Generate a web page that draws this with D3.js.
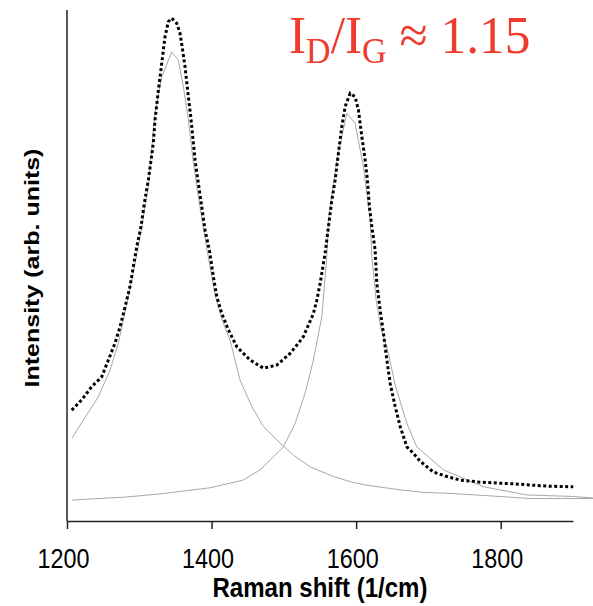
<!DOCTYPE html>
<html>
<head>
<meta charset="utf-8">
<script src="https://cdn.jsdelivr.net/npm/d3@7"></script>
<style>
  html, body { margin: 0; padding: 0; background: #fff; }
  svg { display: block; }
</style>
</head>
<body>
<svg id="chart" width="593" height="606"></svg>
<script>
// ---- data ----
const xTicks = [1200, 1400, 1600, 1800];
const xDomain = [1200, 1900];
const yDomain = [0, 100];

// Measured spectrum (Raman shift in 1/cm, intensity arb. units)
const measShift = [1206.5,1220.3,1234.2,1248.0,1257.2,1266.4,1273.4,1280.3,1287.2,1291.8,1296.5,1302.4,1307.0,1312.5,1319.4,1321.8,1326.4,1331.1,1335.6,1340.2,1344.9,1351.8,1356.4,1359.6,1363.3,1367.9,1371.2,1374.0,1377.2,1381.7,1386.4,1391.0,1397.0,1402.5,1407.2,1414.1,1423.3,1434.9,1453.3,1471.7,1490.2,1508.7,1520.1,1527.1,1540.9,1545.6,1550.2,1554.7,1557.1,1561.7,1566.4,1570.9,1575.5,1580.2,1584.8,1591.7,1598.6,1603.2,1607.9,1612.5,1615.6,1618.4,1621.7,1626.3,1628.6,1633.2,1637.8,1642.5,1647.1,1654.0,1660.9,1670.2,1678.9,1688.6,1706.6,1723.2,1744.0,1771.6,1799.3,1827.0,1845.0,1868.5,1900.3];
const measInt = [21.7,23.7,26.3,28.2,31.5,34.8,38.0,41.9,45.9,49.8,53.7,57.6,62.2,66.7,73.9,78.5,84.3,89.6,94.8,97.7,98.4,97.4,95.4,92.5,88.9,83.0,79.1,75.2,70.6,66.1,61.5,56.9,53.0,47.8,43.9,40.6,37.4,34.1,31.5,29.9,30.5,32.8,34.8,36.1,40.6,43.2,46.5,50.4,52.4,57.6,62.8,66.7,72.0,77.2,81.1,83.7,83.0,80.4,75.2,70.6,66.7,61.5,57.6,53.0,46.5,41.3,36.7,31.5,26.9,22.4,18.5,14.5,13.3,11.7,9.6,8.8,8.0,7.6,7.4,7.2,7.0,6.8,6.7];

// D-band fit
const dFitShift = [1206.9,1215.6,1243.3,1259.5,1271.0,1280.3,1291.8,1302.4,1312.5,1321.8,1331.1,1344.9,1354.0,1361.0,1367.9,1374.4,1384.1,1393.8,1404.8,1414.5,1425.6,1439.4,1455.6,1471.7,1497.2,1513.2,1536.3,1568.6,1591.7,1614.8,1660.9,1693.1,1730.1,1776.2,1840.8,1928.0];
const dFitInt = [16.2,18.2,24.3,29.5,34.8,40.9,48.7,56.6,65.6,79.8,86.9,91.8,90.2,85.0,78.5,70.6,61.3,53.0,44.2,39.3,35.4,27.6,22.4,18.5,14.9,12.9,10.6,8.7,7.7,7.0,6.1,5.6,5.4,5.0,4.4,4.4];

// G-band fit
const gFitShift = [1206.9,1283.0,1328.7,1397.9,1443.6,1467.1,1499.4,1515.6,1529.4,1540.9,1552.5,1559.4,1561.7,1573.3,1587.1,1598.6,1610.1,1619.4,1621.7,1627.7,1634.6,1642.5,1654.0,1670.2,1684.0,1720.8,1776.2,1836.2,1900.8,1928.0];
const gFitInt = [4.1,4.7,5.3,6.5,8.0,10.0,14.5,19.1,25.0,31.5,40.0,51.7,58.9,70.6,79.8,77.8,69.3,58.9,51.7,43.2,37.4,34.1,26.6,19.1,14.5,10.0,6.7,5.1,4.8,4.5];

const xTitle = "Raman shift (1/cm)";
const yTitle = "Intensity (arb. units)";

// ---- drawing ----
const svg = d3.select("#chart");
const mLeft = 67, mRight = 573, mTop = 10, mBottom = 521;

const x = d3.scaleLinear().domain(xDomain).range([mLeft, mRight]);
const y = d3.scaleLinear().domain(yDomain).range([mBottom, mTop]);

const zip = (a, b) => a.map((v, i) => [v, b[i]]);
const line = d3.line().x(d => x(d[0])).y(d => y(d[1]));

// fits (thin grey)
svg.append("path").datum(zip(dFitShift, dFitInt))
  .attr("d", line).attr("fill", "none")
  .attr("stroke", "#a8a8a8").attr("stroke-width", 1);
svg.append("path").datum(zip(gFitShift, gFitInt))
  .attr("d", line).attr("fill", "none")
  .attr("stroke", "#a8a8a8").attr("stroke-width", 1);

// measured data (black dotted)
svg.append("path").datum(zip(measShift, measInt))
  .attr("d", line).attr("fill", "none")
  .attr("stroke", "#000").attr("stroke-width", 3)
  .attr("stroke-dasharray", "3,2.5");

// axes
const xAxis = d3.axisBottom(x).tickValues(xTicks).tickSize(8).tickSizeOuter(0).tickFormat(d3.format("d"));
const gx = svg.append("g").attr("transform", `translate(0,${mBottom})`).call(xAxis);
gx.select(".domain").attr("stroke", "#222").attr("stroke-width", 1.5);
gx.selectAll(".tick line").attr("stroke", "#222").attr("stroke-width", 1.5);
gx.selectAll(".tick text")
  .attr("y", 47).attr("dy", 0).attr("x", -4)
  .attr("font-family", "Liberation Sans, Arial, sans-serif")
  .attr("font-size", 28).attr("fill", "#000")
  .attr("textLength", 52).attr("lengthAdjust", "spacingAndGlyphs");

svg.append("line")
  .attr("x1", mLeft).attr("x2", mLeft).attr("y1", mTop).attr("y2", mBottom)
  .attr("stroke", "#222").attr("stroke-width", 1.5);

// axis titles
svg.append("text")
  .attr("x", (mLeft + mRight) / 2).attr("y", 597)
  .attr("text-anchor", "middle")
  .attr("font-family", "Liberation Sans, Arial, sans-serif")
  .attr("font-weight", "bold").attr("font-size", 27)
  .attr("textLength", 215).attr("lengthAdjust", "spacingAndGlyphs")
  .text(xTitle);

svg.append("g").attr("transform", "translate(39,268) scale(0.82,1) rotate(-90)")
  .append("text")
  .attr("text-anchor", "middle")
  .attr("font-family", "Liberation Sans, Arial, sans-serif")
  .attr("font-weight", "bold").attr("font-size", 25)
  .text(yTitle);

// annotation
const ann = svg.append("g").attr("transform", "translate(289,53) scale(0.97,1)")
  .append("text")
  .attr("font-family", "Liberation Serif, 'Times New Roman', serif")
  .attr("fill", "#ee3b2b").attr("font-size", 53);
ann.append("tspan").text("I");
ann.append("tspan").attr("font-size", 35).attr("dy", 10).text("D");
ann.append("tspan").attr("dy", -10).text("/I");
ann.append("tspan").attr("font-size", 35).attr("dy", 10).text("G");
ann.append("tspan").attr("dy", -10).text(" \u2248 1.15");
</script>
</body>
</html>
